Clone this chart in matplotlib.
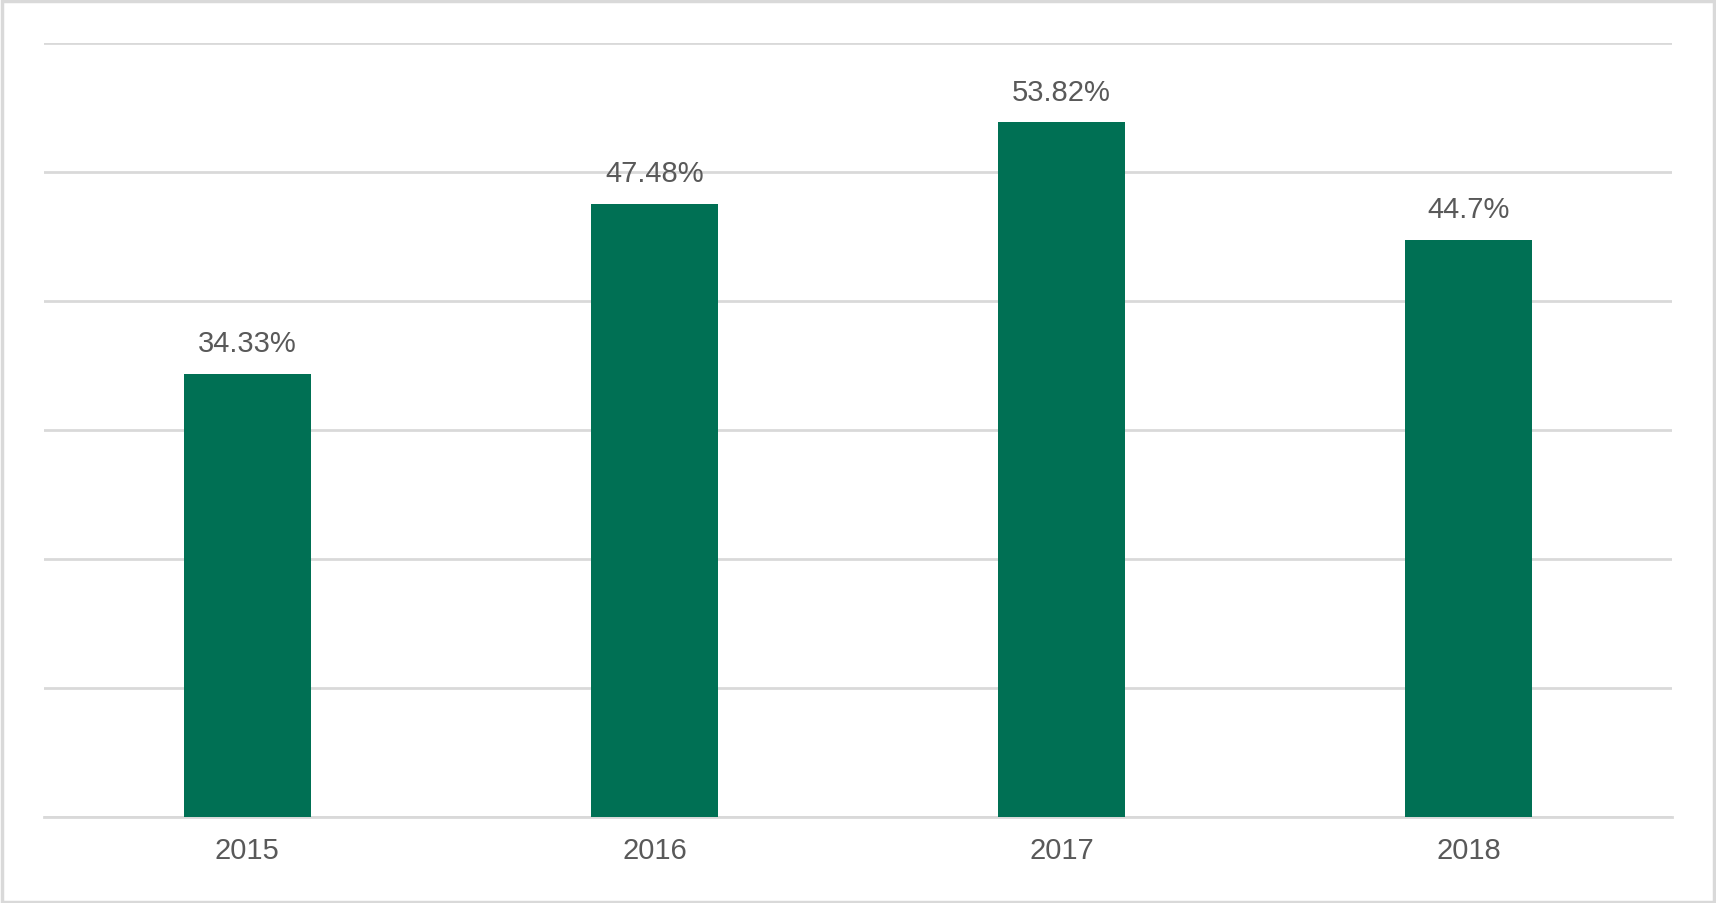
import matplotlib
matplotlib.use("Agg")
import matplotlib.pyplot as plt
from matplotlib.patches import Rectangle

years = ["2015", "2016", "2017", "2018"]
values = [34.33, 47.48, 53.82, 44.7]
labels = ["34.33%", "47.48%", "53.82%", "44.7%"]

plt.rcParams['font.family'] = ['Liberation Sans', 'DejaVu Sans']
fig = plt.figure(figsize=(17.16, 9.04), dpi=100)
fig.patches.append(Rectangle((0.001, 0.001), 0.998, 0.997, transform=fig.transFigure,
                             fill=False, edgecolor='#d9d9d9', linewidth=2.5))
ax = fig.add_axes([0.0255, 0.0956, 0.949, 0.856])
x = range(len(years))
ax.bar(x, values, width=0.313, color='#007054', zorder=3)
for i, (v, l) in enumerate(zip(values, labels)):
    ax.text(i, v + 1.3, l, ha='center', va='bottom', fontsize=21, color='#595959')
ax.set_ylim(0, 60)
ax.set_xlim(-0.5, 3.5)
ax.set_yticks(range(0, 61, 10))
ax.yaxis.grid(True, color='#d9d9d9', linewidth=2)
ax.tick_params(axis='y', left=False, labelleft=False)
ax.tick_params(axis='x', length=0, labelsize=21, labelcolor='#595959', pad=14)
ax.set_xticks(list(x))
ax.set_xticklabels(years)
for s in ['top', 'right', 'left']:
    ax.spines[s].set_visible(False)
ax.spines['bottom'].set_color('#d9d9d9')
ax.spines['bottom'].set_linewidth(2)
fig.savefig("out.png", dpi=100)
